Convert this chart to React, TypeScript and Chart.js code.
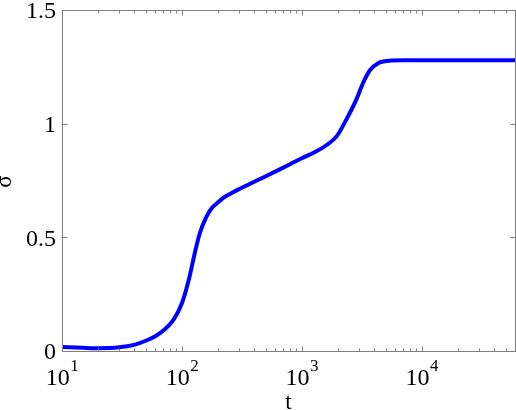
import React, { useEffect, useRef } from "react";
import { Chart, registerables } from "chart.js";

Chart.register(...registerables);

// ---- data ----
const tValues = [10, 15, 20, 30, 40, 50, 60, 70, 85, 100, 115, 128, 141, 160, 177, 200, 220, 260, 300, 430, 600, 800, 1000, 1300, 1600, 1950, 2350, 2850, 3250, 3700, 4300, 5400, 7000, 60000];
const sigmaValues = [0.018, 0.014, 0.012, 0.016, 0.027, 0.045, 0.065, 0.09, 0.137, 0.21, 0.32, 0.43, 0.518, 0.59, 0.628, 0.654, 0.673, 0.695, 0.712, 0.752, 0.789, 0.822, 0.848, 0.876, 0.905, 0.944, 1.018, 1.106, 1.18, 1.235, 1.265, 1.277, 1.279, 1.279];
const xDecadeExponents = [1, 2, 3, 4];
const yTickValues = [0, 0.5, 1, 1.5];
const xAxisTitle = "t";
const yAxisTitle = "σ";
const xMin = 10;
const xMax = 60000;
const yMin = 0;
const yMax = 1.5;

const FONT = '"Liberation Serif", "Times New Roman", serif';
const AXIS_COLOR = "#808080";

export default function App() {
  const ref = useRef<HTMLCanvasElement>(null);

  useEffect(() => {
    const canvas = ref.current;
    if (!canvas) return;

    const framePlugin = {
      id: "matlabFrame",
      afterDraw(chart: any) {
        const { ctx, chartArea: a, scales } = chart;
        const xs = scales.x;
        const ys = scales.y;
        const L = Math.round(a.left) + 0.5;
        const R = Math.round(a.right) + 0.5;
        const T = Math.round(a.top) + 0.5;
        const B = Math.round(a.bottom) + 0.5;
        ctx.save();
        ctx.strokeStyle = AXIS_COLOR;
        ctx.lineWidth = 1;
        ctx.beginPath();
        ctx.moveTo(L, T);
        ctx.lineTo(R, T);
        ctx.lineTo(R, B);
        ctx.lineTo(L, B);
        ctx.closePath();
        ctx.stroke();

        // x ticks (inward, top and bottom)
        ctx.beginPath();
        const major = 5;
        const minor = 3;
        for (const e of xDecadeExponents) {
          for (let m = 1; m <= 9; m++) {
            const v = m * Math.pow(10, e);
            if (v < xMin || v > xMax) continue;
            const px = Math.round(xs.getPixelForValue(v)) + 0.5;
            const len = m === 1 ? major : minor;
            ctx.moveTo(px, B);
            ctx.lineTo(px, B - len);
            ctx.moveTo(px, T);
            ctx.lineTo(px, T + len);
          }
        }
        // y ticks (inward, left and right)
        for (const v of yTickValues) {
          const py = Math.round(ys.getPixelForValue(v)) + 0.5;
          ctx.moveTo(L, py);
          ctx.lineTo(L + major, py);
          ctx.moveTo(R, py);
          ctx.lineTo(R - major, py);
        }
        ctx.stroke();

        // x tick labels: 10^e
        ctx.fillStyle = "#000";
        ctx.textBaseline = "alphabetic";
        ctx.textAlign = "left";
        const baseFont = `24px ${FONT}`;
        const expFont = `17px ${FONT}`;
        for (const e of xDecadeExponents) {
          const px = xs.getPixelForValue(Math.pow(10, e));
          ctx.font = baseFont;
          const wBase = ctx.measureText("10").width;
          ctx.font = expFont;
          const wExp = ctx.measureText(String(e)).width;
          const start = px - (wBase + wExp) / 2;
          ctx.font = baseFont;
          ctx.fillText("10", start, 385);
          ctx.font = expFont;
          ctx.fillText(String(e), start + wBase + 0.5, 371);
        }

        // axis titles
        ctx.font = `23px ${FONT}`;
        ctx.textAlign = "center";
        ctx.fillText(xAxisTitle, (a.left + a.right) / 2, 409);
        ctx.save();
        ctx.translate(11, (a.top + a.bottom) / 2 + 1);
        ctx.rotate(-Math.PI / 2);
        ctx.fillText(yAxisTitle, 0, 0);
        ctx.restore();
        ctx.restore();
      },
    };

    const chart = new Chart(canvas, {
      type: "line",
      data: {
        datasets: [
          {
            data: tValues.map((t, i) => ({ x: t, y: sigmaValues[i] })),
            borderColor: "#0000ff",
            backgroundColor: "#0000ff",
            borderWidth: 4,
            pointRadius: 0,
            cubicInterpolationMode: "monotone",
            fill: false,
          },
        ],
      },
      options: {
        responsive: false,
        animation: false,
        devicePixelRatio: 1,
        layout: { padding: { left: 0, right: 1, top: 10, bottom: 0 } },
        plugins: {
          legend: { display: false },
          tooltip: { enabled: false },
          title: { display: false },
        },
        scales: {
          x: {
            type: "logarithmic",
            min: xMin,
            max: xMax,
            grid: { display: false, drawTicks: false },
            border: { display: false },
            ticks: { display: false },
            afterFit: (s: any) => {
              s.height = 59;
              s.paddingLeft = 0;
              s.paddingRight = 0;
            },
          },
          y: {
            type: "linear",
            min: yMin,
            max: yMax,
            grid: { display: false, drawTicks: false },
            border: { display: false },
            afterBuildTicks: (s: any) => {
              s.ticks = yTickValues.map((v) => ({ value: v }));
            },
            ticks: {
              color: "#000",
              padding: 6,
              labelOffset: 2,
              font: { family: FONT, size: 24 },
              callback: (v: any) => String(v),
            },
            afterFit: (s: any) => {
              s.width = 62;
              s.paddingTop = 0;
              s.paddingBottom = 0;
            },
          },
        },
      },
      plugins: [framePlugin],
    } as any);

    return () => chart.destroy();
  }, []);

  return (
    <div style={{ position: "absolute", left: 0, top: 0, width: 516, height: 410, background: "#fff" }}>
      <canvas ref={ref} width={516} height={410} style={{ display: "block" }} />
    </div>
  );
}
